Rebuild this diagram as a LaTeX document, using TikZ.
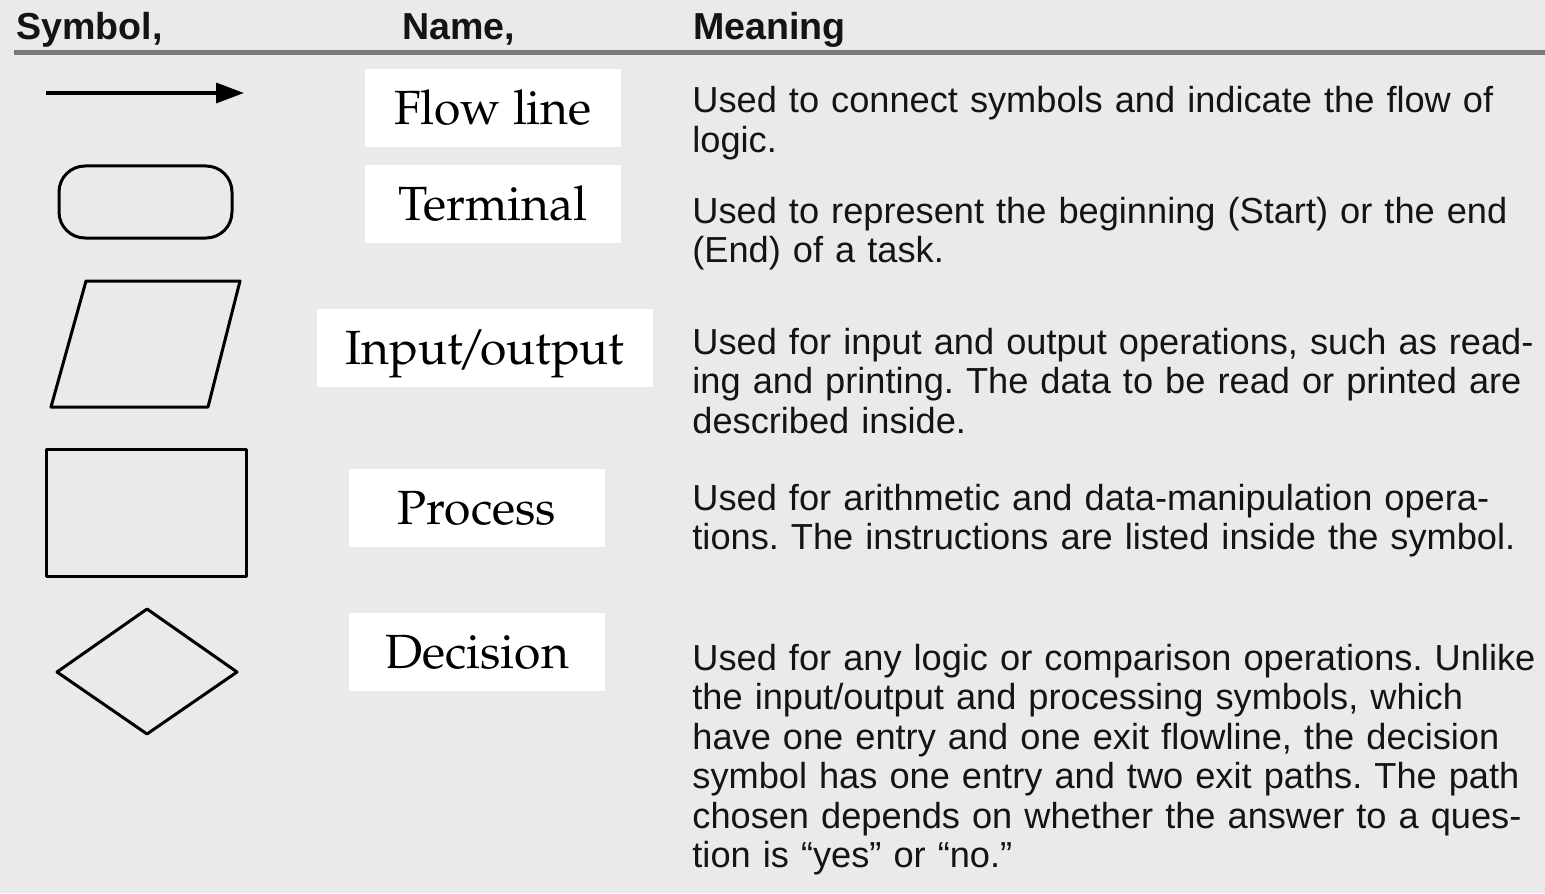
\documentclass[tikz,border=0pt]{standalone}
\usepackage[T1]{fontenc}
\usepackage{fontspec}
\setsansfont{Liberation Sans}
\usetikzlibrary{arrows.meta}
\newcommand\palfont{\fontencoding{T1}\fontfamily{ppl}\selectfont}
\definecolor{paper}{HTML}{EAEAEA}
\definecolor{rulegray}{HTML}{7A7A7A}
\definecolor{ink}{HTML}{141414}
\begin{document}
\frenchspacing
\begin{tikzpicture}[x=0.5pt,y=-0.5pt,
  head/.style={anchor=base west, inner sep=0pt, text=ink,
    font=\sffamily\bfseries\fontsize{18.8}{22}\selectfont},
  namebox/.style={fill=white, inner sep=0pt, minimum height=39pt,
    text height=16.6pt, text depth=0pt, text=black,
    font=\palfont\fontsize{24}{28}\selectfont},
  desc/.style={anchor=base west, inner sep=0pt, text width=470pt,
    align=left, text=ink,
    font=\sffamily\fontsize{18.1}{19.75}\selectfont\frenchspacing},
  symline/.style={draw=black, line width=1.5pt, line join=round}]

% page and background
\useasboundingbox (0,0) rectangle (1545,893);
\fill[paper] (0,0) rectangle (1545,893);

% column heads and rule
\node[head] (hsym)  at (16,40)  {Symbol,};
\node[head] (hname) at (402,40) {Name,};
\node[head] (hmean) at (693,40) {Meaning};
\draw[rulegray, line width=2.5pt] (14,53) -- (1545,53);

% symbols
\coordinate (flA) at (46,93);
\coordinate (flB) at (244,93);
\draw[line width=1.7pt, -{Triangle[length=14pt,width=10pt]}] (flA) -- (flB);
\draw[symline, rounded corners=13pt] (59,166) rectangle (232,238);
\draw[symline] (86,281) -- (240,281) -- (208,407) -- (51,407) -- cycle;
\draw[symline] (46,449) rectangle (246,576);
\draw[symline] (147,609) -- (237,672) -- (147,734) -- (57,672) -- cycle;

% names
\node[namebox, minimum width=128pt] (nflow) at (493,108)   {Flow line};
\node[namebox, minimum width=128pt] (nterm) at (493,204)   {Terminal};
\node[namebox, minimum width=168pt] (nio)   at (485,347.5) {Input\kern-3pt/\kern-3pt output};
\node[namebox, minimum width=128pt] (nproc) at (477,508)   {Process};
\node[namebox, minimum width=128pt] (ndec)  at (477,652)   {Decision};

% meanings
\node[desc] (dflow) at (692,113) {Used to connect symbols and indicate the flow of\\
logic.};
\node[desc] (dterm) at (692,223) {Used to represent the beginning (Start) or the end\\
(End) of a task.};
\node[desc] (dio) at (692,354) {Used for input and output operations, such as read-\\
ing and printing. The data to be read or printed are\\
described inside.};
\node[desc] (dproc) at (692,510) {Used for arithmetic and data-manipulation opera-\\
tions. The instructions are listed inside the symbol.};
\node[desc] (ddec) at (692,670) {Used for any logic or comparison operations. Unlike\\
the input/output and processing symbols, which\\
have one entry and one exit flowline, the decision\\
symbol has one entry and two exit paths. The path\\
chosen depends on whether the answer to a ques-\\
tion is “yes” or “no.”};
\end{tikzpicture}
\end{document}
